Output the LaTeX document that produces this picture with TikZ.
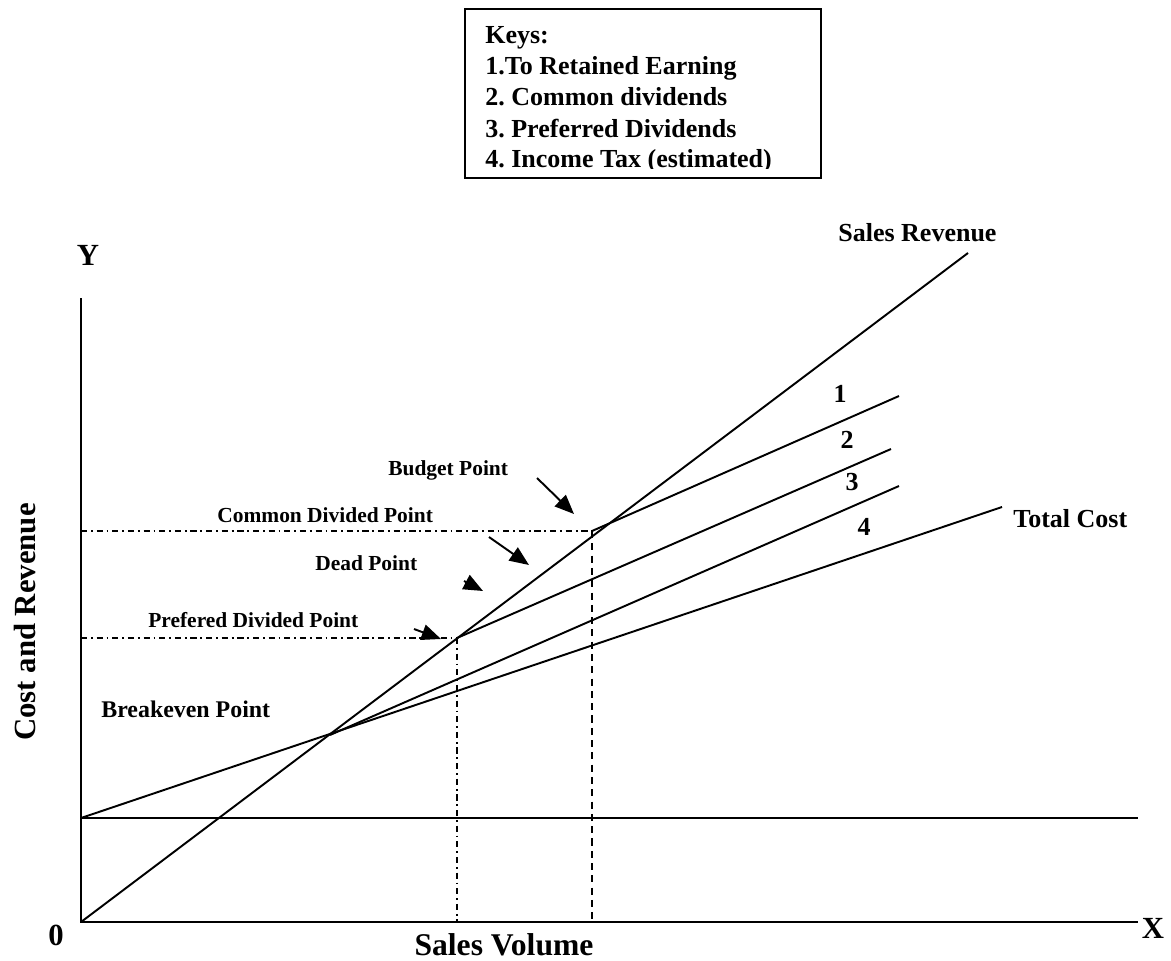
\documentclass[tikz,border=0pt]{standalone}
\usepackage{fontspec}
\setmainfont{Liberation Serif}
\usetikzlibrary{arrows.meta}
\frenchspacing

\tikzset{
  curve/.style={line width=1.1pt},
  guide/.style={line width=1pt, dash pattern=on 3.5pt off 2.2pt on 1pt off 2.2pt},
  drop/.style={line width=1pt, dash pattern=on 4pt off 3pt},
  pointer/.style={line width=1.1pt, -{Triangle[length=11pt,width=9pt]}},
  ptlabel/.style={anchor=base west, inner sep=0pt, font=\bfseries\fontsize{12.2}{14}\selectfont},
  linelabel/.style={anchor=base, inner sep=0pt, font=\bfseries\fontsize{14.8}{17}\selectfont},
  keytext/.style={anchor=base west, inner sep=0pt, font=\bfseries\fontsize{14.8}{17}\selectfont},
  axislabel/.style={anchor=base, inner sep=0pt, font=\bfseries\fontsize{17.5}{20}\selectfont}
}

\begin{document}
\begin{tikzpicture}[x=0.02cm, y=-0.02cm]
        \useasboundingbox (0,0) rectangle (1171,961);
        % ==== POINTS ====
        \coordinate (O) at (81,922);
        \coordinate (ytop) at (81,298);
        \coordinate (xend) at (1138,922);
        \coordinate (fixL) at (81,818);
        \coordinate (fixR) at (1138,818);
        \coordinate (revEnd) at (968,253);
        \coordinate (costEnd) at (1002,507);
        \coordinate (bep) at (330,735);
        \coordinate (pdp) at (457,638);
        \coordinate (bud) at (592,531);
        \coordinate (end1) at (899,396);
        \coordinate (end2) at (891,449);
        \coordinate (end3) at (899,486);

        % ==== AXES ====
        \draw[curve] (ytop) -- (O) -- (xend);
        \draw[curve] (fixL) -- (fixR);

        % ==== REVENUE AND COST LINES ====
        \draw[curve] (O) -- (revEnd);
        \draw[curve] (fixL) -- (costEnd);
        \draw[curve] (bud) -- (end1);
        \draw[curve] (pdp) -- (end2);
        \draw[curve] (bep) -- (end3);

        % ==== GUIDES ====
        \draw[guide] (81,531) -- (bud);
        \draw[drop] (bud) -- (592,922);
        \draw[guide] (81,638) -- (pdp);
        \draw[guide] (pdp) -- (457,922);

        % ==== POINTERS ====
        \draw[pointer] (537,478) -- (574,514);
        \draw[pointer] (489,537) -- (529,565);
        \draw[pointer] (464,581) -- (483,591);
        \draw[pointer] (414,629) -- (441,639);

        % ==== LABELS ====
        \node[ptlabel] (budget) at (388,475) {Budget Point};
        \node[ptlabel] (common) at (217,522) {Common Divided Point};
        \node[ptlabel] (dead) at (315,570) {Dead Point};
        \node[ptlabel] (prefered) at (148,627) {Prefered Divided Point};
        \node[ptlabel, font=\bfseries\fontsize{13.6}{16}\selectfont] (breakeven) at (101,717) {Breakeven Point};
        \node[keytext] (revenue) at (838,241) {Sales Revenue};
        \node[keytext] (total) at (1013,527) {Total Cost};
        \node[linelabel] (n1) at (840,402) {1};
        \node[linelabel] (n2) at (847,448) {2};
        \node[linelabel] (n3) at (852,490) {3};
        \node[linelabel] (n4) at (864,535) {4};
        \node[axislabel] (ylab) at (88,265) {Y};
        \node[axislabel] (zero) at (56,945) {0};
        \node[axislabel] (xlab) at (1153,938) {X};
        \node[axislabel, font=\bfseries\fontsize{18}{20}\selectfont] (volume) at (504,955) {Sales Volume};
        \node[axislabel, rotate=90] (costrev) at (35,622) {Cost and Revenue};

        % ==== KEYS ====
        \begin{scope}
          \clip (465,9) rectangle (821,168);
          \node[keytext] (key0) at (485,43) {Keys:};
          \node[keytext] (key1) at (485,74) {1.To Retained Earning};
          \node[keytext] (key2) at (485,105) {2. Common dividends};
          \node[keytext] (key3) at (485,137) {3. Preferred Dividends};
          \node[keytext] (key4) at (485,167) {4. Income Tax (estimated)};
        \end{scope}
        \draw[line width=1.1pt] (465,9) rectangle (821,178);
\end{tikzpicture}
\end{document}
